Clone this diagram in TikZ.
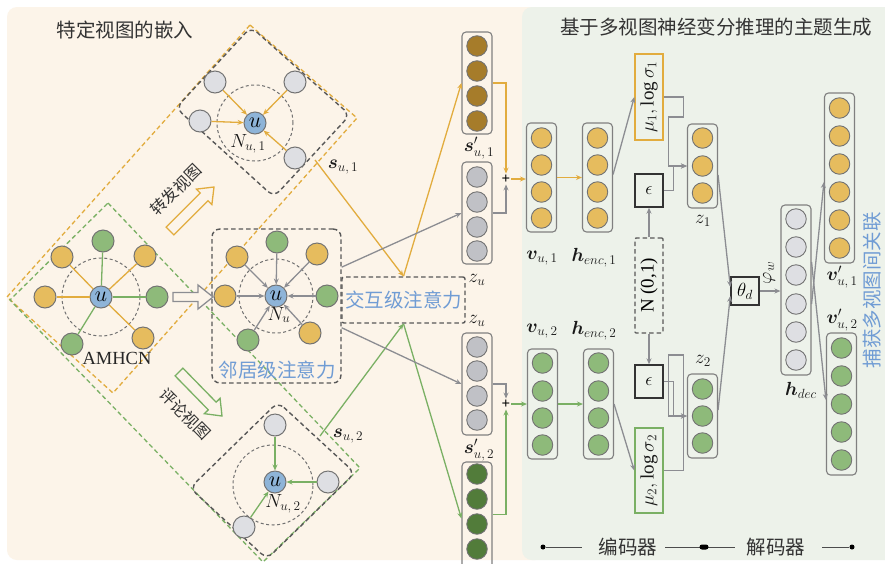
\RequirePackage{fix-cm}
\documentclass[tikz,border=0pt]{standalone}
\usepackage{amsmath}
\usepackage{bm}
\usepackage{fontspec}
\setmainfont{Liberation Serif}
\newfontfamily\cjk{Noto Sans CJK SC}
\usetikzlibrary{arrows.meta,calc}

\definecolor{cream}{RGB}{252,244,233}
\definecolor{panelg}{RGB}{237,242,234}
\definecolor{orn}{RGB}{230,188,94}
\definecolor{ornline}{RGB}{226,172,62}
\definecolor{grn}{RGB}{142,186,122}
\definecolor{grnline}{RGB}{122,176,100}
\definecolor{gold}{RGB}{166,124,42}
\definecolor{dgrn}{RGB}{82,124,58}
\definecolor{mgray}{RGB}{192,193,198}
\definecolor{lgray}{RGB}{222,223,227}
\definecolor{ublue}{RGB}{142,180,216}
\definecolor{tblue}{RGB}{112,156,212}
\definecolor{dline}{RGB}{88,88,88}
\definecolor{aline}{RGB}{140,141,146}

% hollow block arrow: tail, tip, colour, shaft half-width, head half-width, head length
\newcommand\hollowarrow[6]{%
  \coordinate (hb) at ($(#2)!#6!(#1)$);
  \draw[#3, line width=1.3pt, fill=cream, line join=miter]
    ($(#1)!#4!90:(#2)$) -- ($(hb)!#4!90:(#2)$) -- ($(hb)!#5!90:(#2)$) -- (#2)
    -- ($(hb)!#5!-90:(#2)$) -- ($(hb)!#4!-90:(#2)$) -- ($(#1)!#4!-90:(#2)$) -- cycle;}

% a column of units: name, x, top, bottom, fill, list of unit positions
\newcommand\vcol[6]{%
  \node[colbox, minimum height=#4pt-#3pt] (#1) at (#2,{(#3+#4)/2}) {};
  \foreach \yy [count=\k] in {#6} \node[vcirc, fill=#5] (#1-\k) at (#2,\yy) {};}

\begin{document}
\begin{tikzpicture}[x=1pt,y=-1pt,
  gnode/.style={circle, draw=black!55, line width=1pt, minimum size=22pt, inner sep=0pt,
    font=\fontsize{22}{22}\selectfont},
  vcirc/.style={circle, draw=black!55, line width=0.9pt, minimum size=20.5pt, inner sep=0pt},
  colbox/.style={draw=black!50, line width=1.1pt, rounded corners=4pt, minimum width=30pt, inner sep=0pt},
  dashbox/.style={draw=dline, line width=1.4pt, dash pattern=on 4.5pt off 3pt, rounded corners=6pt},
  ringdash/.style={draw=dline!85, line width=1pt, dash pattern=on 3pt off 2.5pt},
  tip/.style={-{Stealth[length=6pt,width=5pt]}},
  oarr/.style={draw=ornline, line width=1.3pt, tip},
  garr/.style={draw=grnline, line width=1.3pt, tip},
  aarr/.style={draw=aline, line width=1.3pt, tip},
  oline/.style={draw=ornline, line width=1.3pt},
  gline/.style={draw=grnline, line width=1.3pt},
  cjkt/.style={font=\cjk\fontsize{19.5}{20}\selectfont, text=black!80, inner sep=0pt},
  bluet/.style={font=\cjk\fontsize{19.5}{20}\selectfont, text=tblue, inner sep=0pt},
  mlbl/.style={font=\fontsize{19}{21}\selectfont, inner sep=0pt, text=black!90},
  nlbl/.style={font=\fontsize{19}{19}\selectfont, inner sep=0pt, text=black!90},
  sbox/.style={draw=black!80, line width=1.4pt, inner sep=0pt, minimum width=28pt},
  dotn/.style={circle, fill=black, minimum size=5pt, inner sep=0pt}]

\useasboundingbox (0,0) rectangle (885,563);
\fill[white] (0,0) rectangle (885,563);

% the two panels
\fill[cream, rounded corners=10pt] (7,7) rectangle (545,560);
\fill[panelg, rounded corners=10pt] (522,7) rectangle (900,560);

\node[cjkt] (title1) at (125,30) {特定视图的嵌入};
\node[cjkt] (title2) at (716,27) {基于多视图神经变分推理的主题生成};

% view regions
\draw[ornline, line width=1.3pt, dash pattern=on 4.5pt off 3pt] (250,25) -- (357,118) -- (113,393) -- (7,297) -- cycle;
\draw[grnline, line width=1.3pt, dash pattern=on 4.5pt off 3pt] (108,203) -- (360,468) -- (263,562) -- (10,300) -- cycle;
\draw[dashbox, rounded corners=8pt] (251,27) -- (350,115) -- (274,197) -- (176,108) -- cycle;
\draw[dashbox, rounded corners=8pt] (278,402) -- (355,473) -- (267,559) -- (190,488) -- cycle;

% forwarding-view graph
\draw[ringdash] (255,123) circle (38pt);
\node[gnode, fill=ublue] (uc) at (255,123) {$u$};
\node[gnode, fill=lgray] (c1) at (215,82) {};
\node[gnode, fill=lgray] (c2) at (295,82) {};
\node[gnode, fill=lgray] (c3) at (200,121) {};
\node[gnode, fill=lgray] (c4) at (295,158) {};
\foreach \n in {c1,c2,c3,c4} \draw[oarr] (\n) -- (uc);
\node[nlbl] (nu1) at (248,144) {$N_{u,\,1}$};

% comment-view graph
\draw[ringdash] (273,485) circle (40pt);
\node[gnode, fill=ublue] (ud) at (275,482) {$u$};
\node[gnode, fill=lgray] (d1) at (275,425) {};
\node[gnode, fill=lgray] (d2) at (328,482) {};
\node[gnode, fill=lgray] (d3) at (244,527) {};
\foreach \n in {d1,d2,d3} \draw[garr] (\n) -- (ud);
\node[nlbl] (nu2) at (283,504) {$N_{u,\,2}$};

% heterogeneous graph
\draw[ringdash] (101,297) circle (39pt);
\node[gnode, fill=ublue] (ua) at (101,297) {$u$};
\node[gnode, fill=grn] (a1) at (103,241) {};
\node[gnode, fill=orn] (a2) at (62,257) {};
\node[gnode, fill=orn] (a3) at (145,256) {};
\node[gnode, fill=orn] (a4) at (45,297) {};
\node[gnode, fill=grn] (a5) at (157,297) {};
\node[gnode, fill=grn] (a6) at (72,344) {};
\node[gnode, fill=orn] (a7) at (143,338) {};
\foreach \n in {a2,a3,a4,a7} \draw[oline] (ua) -- (\n);
\foreach \n in {a1,a5,a6} \draw[gline] (ua) -- (\n);
\node[font=\fontsize{18.5}{20}\selectfont, text=black!85, inner sep=0pt] (amh) at (117,358) {AMHCN};

% neighbour-level attention
\node[dashbox, rounded corners=8pt, minimum width=129pt, minimum height=154pt] (nbox) at (276.5,306) {};
\draw[ringdash] (276,296) circle (37pt);
\node[gnode, fill=ublue] (ub) at (276,296) {$u$};
\node[gnode, fill=grn] (b1) at (277,242) {};
\node[gnode, fill=orn] (b2) at (237,257) {};
\node[gnode, fill=orn] (b3) at (317,254) {};
\node[gnode, fill=orn] (b4) at (225,296) {};
\node[gnode, fill=grn] (b5) at (327,296) {};
\node[gnode, fill=grn] (b6) at (248,340) {};
\node[gnode, fill=orn] (b7) at (310,333) {};
\foreach \n in {b1,b2,b3,b4,b5,b6,b7} \draw[aarr] (\n) -- (ub);
\node[nlbl] (nu) at (279,315) {$N_{u}$};
\node[bluet] (nbtxt) at (277,370) {邻居级注意力};

% view arrows
\coordinate (fwt) at (170,231); \coordinate (fwh) at (214,187);
\hollowarrow{fwt}{fwh}{ornline}{5.5pt}{11pt}{14pt}
\node[cjkt, font=\cjk\fontsize{16}{16}\selectfont, rotate=45] (fwtxt) at (176,190) {转发视图};
\coordinate (cmt) at (179,372); \coordinate (cmh) at (222,416);
\hollowarrow{cmt}{cmh}{grnline}{5.5pt}{11pt}{14pt}
\node[cjkt, font=\cjk\fontsize{16}{16}\selectfont, rotate=-45] (cmtxt) at (185,414) {评论视图};
\coordinate (mgt) at (173,297); \coordinate (mgh) at (213,297);
\hollowarrow{mgt}{mgh}{aline}{4.5pt}{12pt}{15pt}

% interaction-level attention
\node[dashbox, rounded corners=2pt, minimum width=123pt, minimum height=46pt, inner sep=0pt] (ibox) at (403.5,300) {};
\node[bluet] (ibtxt) at (403.5,300) {交互级注意力};

% view-specific columns
\vcol{su1}{477}{32}{134}{gold}{46,71,96,121}
\vcol{zu1}{477}{162}{264}{mgray}{177,202,227,251}
\vcol{zu2}{477}{333}{435}{mgray}{347,371,396,420}
\vcol{su2}{477}{462}{575}{dgrn}{474,499,524,549}
\node[mlbl] (lsu1) at (479,148) {$\bm{s}'_{u,\,1}$};
\node[mlbl] (lzu1) at (477,280) {$z_u$};
\node[mlbl] (lzu2) at (477,321) {$z_u$};
\node[mlbl] (lsu2) at (479,450) {$\bm{s}'_{u,\,2}$};
\node[mlbl] (ls1) at (343,167) {$\bm{s}_{u,\,1}$};
\node[mlbl] (ls2) at (348,436) {$\bm{s}_{u,\,2}$};

\coordinate (s1) at (315,160);
\coordinate (s2) at (320,436);
\draw[oarr] (s1) -- (ibox.north);
\draw[oarr] (ibox.north) -- (su1.west);
\draw[garr] (s2) -- (ibox.south);
\draw[garr] (ibox.south) -- (su2.west);
\draw[aarr] ($(nbox.north east)!0.25!(nbox.south east)$) -- (zu1.west);
\draw[aarr] ($(nbox.north east)!0.64!(nbox.south east)$) -- (zu2.west);

% fusion
\node[font=\fontsize{15}{15}\selectfont\bfseries, inner sep=1pt] (p1) at (506,179) {+};
\node[font=\fontsize{15}{15}\selectfont\bfseries, inner sep=1pt] (p2) at (506,404) {+};
\draw[oarr] (su1.east) -| (p1.north);
\draw[aarr] (zu1.east) -| (p1.south);
\draw[aarr] (zu2.east) -| (p2.north);
\draw[garr] ($(su2.east)+(0,-4)$) -| (p2.south);

% encoder
\vcol{vu1}{541.5}{123}{232}{orn}{138,165,192,218}
\vcol{he1}{597.5}{123}{232}{orn}{138,165,192,218}
\vcol{vu2}{542.5}{349}{459}{grn}{363,391,418,445}
\vcol{he2}{598.5}{349}{459}{grn}{363,391,418,445}
\node[mlbl] (lvu1) at (542,258) {$\bm{v}_{u,\,1}$};
\node[mlbl] (lhe1) at (594,258) {$\bm{h}_{enc,\,1}$};
\node[mlbl] (lvu2) at (542,331) {$\bm{v}_{u,\,2}$};
\node[mlbl] (lhe2) at (594,331) {$\bm{h}_{enc,\,2}$};
\draw[oarr] (p1.east) -- (p1.east -| vu1.west);
\draw[oarr] (vu1.east) -- (he1.west);
\draw[garr] (p2.east) -- (p2.east -| vu2.west);
\draw[garr] (vu2.east) -- (he2.west);

% reparameterisation
\node[draw=ornline, line width=1.4pt, inner sep=0pt, minimum width=28pt, minimum height=86pt, fill=panelg] (mu1) at (649,97) {};
\node[mlbl, rotate=90] (mu1t) at (649,97) {$\mu_1,\log\sigma_1$};
\node[draw=grnline, line width=1.4pt, inner sep=0pt, minimum width=28pt, minimum height=85pt, fill=panelg] (mu2) at (649,470.5) {};
\node[mlbl, rotate=90] (mu2t) at (649,470.5) {$\mu_2,\log\sigma_2$};
\node[sbox, minimum height=33pt, font=\fontsize{18}{18}\selectfont] (eps1) at (649,190.5) {$\epsilon$};
\node[sbox, minimum height=33pt, font=\fontsize{18}{18}\selectfont] (eps2) at (649,381.5) {$\epsilon$};
\node[dashbox, rounded corners=1pt, minimum width=28pt, minimum height=95pt, inner sep=0pt] (nn) at (649,285.5) {};
\node[font=\fontsize{19}{19}\selectfont, rotate=90, inner sep=0pt] (nnt) at (649,285.5) {N (0,1)};
\draw[aarr] (he1.east) ++(0,-3) -- (mu1.west);
\draw[aarr] (he2.east) -- (mu2.west);
\draw[aarr] (nn.north) -- (eps1.south);
\draw[aarr] (nn.south) -- (eps2.north);

\vcol{z1}{702.5}{124}{208}{orn}{138,166,193}
\vcol{z2}{702.5}{374}{458}{grn}{389,416,443}
\node[mlbl] (lz1) at (703,221) {$z_1$};
\node[mlbl] (lz2) at (703,361) {$z_2$};
\draw[aarr] (mu1.east) -- ++(20,0) -- ++(0,20) -- ++(-15,0) |- (z1.west);
\draw[aarr] (eps1.east) -- ++(10,0) |- (z1.west);
\draw[aarr] (mu2.east) -- ++(20,0) -- ++(0,-115.5) -- ++(-15,0) |- (z2.west);
\draw[aarr] (eps2.east) -- ++(10,0) |- (z2.west);

% decoder
\node[sbox, minimum height=28pt, font=\fontsize{19}{19}\selectfont] (th) at (745,291) {$\theta_d$};
\vcol{hd}{796}{205}{375}{lgray}{219,247,275,304,332,360}
\vcol{vp1}{839.5}{93}{263}{orn}{108,136,164,192,220,248}
\vcol{vp2}{841.5}{333}{475}{grn}{348,376,404,432,460}
\node[mlbl] (lhd) at (801,390) {$\bm{h}_{dec}$};
\node[mlbl] (lvp1) at (842,277) {$\bm{v}'_{u,\,1}$};
\node[mlbl] (lvp2) at (842,320) {$\bm{v}'_{u,\,2}$};
\node[mlbl, rotate=90] (lphi) at (769,273) {$\varphi_w$};
\draw[aarr] ($(z1.east)+(0,9)$) -- ($(th.west)+(0,-4)$);
\draw[aarr] ($(z2.east)+(0,-6)$) -- ($(th.west)+(0,5)$);
\draw[aarr] (th.east) -- (th.east -| hd.west);
\draw[aarr] ($(hd.east)+(0,14)$) -- ($(vp1.west)+(0,4)$);
\draw[aarr] ($(hd.east)+(0,-28)$) -- ($(vp2.west)+(0,-4)$);
\node[bluet, rotate=90] (rtxt) at (872,290) {捕获多视图间关联};

% legend
\node[dotn] (ld1) at (543,547) {};
\coordinate (le1) at (582,547);
\draw[black!70, line width=1pt] (ld1) -- (le1);
\node[cjkt] (enc) at (628,547) {编码器};
\coordinate (lm1) at (665,547);
\coordinate (lm2) at (735,547);
\draw[black!70, line width=1pt] (lm1) -- (lm2);
\node[fill=black, minimum width=9pt, minimum height=5pt, rounded corners=2.5pt, inner sep=0pt] (ld2) at (704,547) {};
\node[cjkt] (dec) at (776,547) {解码器};
\coordinate (le3) at (822,547);
\node[dotn] (ld3) at (852,547) {};
\draw[black!70, line width=1pt] (le3) -- (ld3);
\end{tikzpicture}
\end{document}
